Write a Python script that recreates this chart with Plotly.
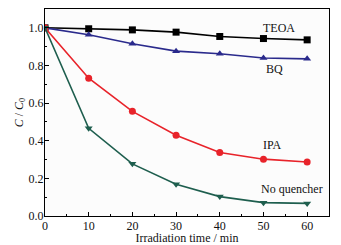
import plotly.graph_objects as go

time = [0, 10, 20, 30, 40, 50, 60]
teoa = [1.0, 0.995, 0.989, 0.977, 0.954, 0.943, 0.936]
bq = [1.0, 0.963, 0.915, 0.876, 0.862, 0.840, 0.835]
ipa = [1.0, 0.732, 0.556, 0.429, 0.337, 0.302, 0.287]
noq = [1.0, 0.466, 0.277, 0.169, 0.103, 0.071, 0.067]

series = [
    ("TEOA", teoa, "#000000", "square"),
    ("BQ", bq, "#2a2a8c", "triangle-up"),
    ("IPA", ipa, "#e8232a", "circle"),
    ("No quencher", noq, "#1e5e4e", "triangle-down"),
]

FONT = "Liberation Serif, Times New Roman, serif"

fig = go.Figure()
for name, ys, col, sym in series:
    fig.add_trace(go.Scatter(x=time, y=ys, mode="lines+markers", name=name,
                             line=dict(color=col, width=1.6),
                             marker=dict(symbol=sym, size=7, color=col)))

labels = [("TEOA", 53.5, 1.0), ("BQ", 52.5, 0.78), ("IPA", 52, 0.375), ("No quencher", 56.5, 0.145)]
for t, x, y in labels:
    fig.add_annotation(x=x, y=y, text=t, showarrow=False, xanchor="center",
                       font=dict(family=FONT, size=12, color="#111"))

axis_common = dict(showline=True, linecolor="black", linewidth=1.2, mirror=True,
                   ticks="inside", ticklen=4, tickcolor="black", showgrid=False, zeroline=False,
                   automargin=False,
                   tickfont=dict(family=FONT, size=12, color="#111"))
fig.update_xaxes(range=[0, 65], tickvals=[0, 10, 20, 30, 40, 50, 60],
                 minor=dict(ticks="inside", ticklen=2, dtick=5, tickcolor="black"),
                 ticklabelstandoff=-2,
                 title=dict(text="Irradiation time / min", standoff=2,
                            font=dict(family=FONT, size=12, color="#111")),
                 **axis_common)
fig.update_yaxes(range=[0, 1.1], tickvals=[0, 0.2, 0.4, 0.6, 0.8, 1.0], tickformat=".1f",
                 minor=dict(ticks="inside", ticklen=2, dtick=0.1, tickcolor="black"),
                 ticklabelstandoff=-2,
                 title=dict(text="<i>C</i> / <i>C</i><sub>0</sub>", standoff=2,
                            font=dict(family=FONT, size=12, color="#111")),
                 **axis_common)
fig.update_layout(width=333, height=237, margin=dict(l=37, r=12, t=1, b=29),
                  showlegend=False, plot_bgcolor="#fcfcfc", paper_bgcolor="white",
                  font=dict(family=FONT, size=12))
fig.write_html("out.html")
